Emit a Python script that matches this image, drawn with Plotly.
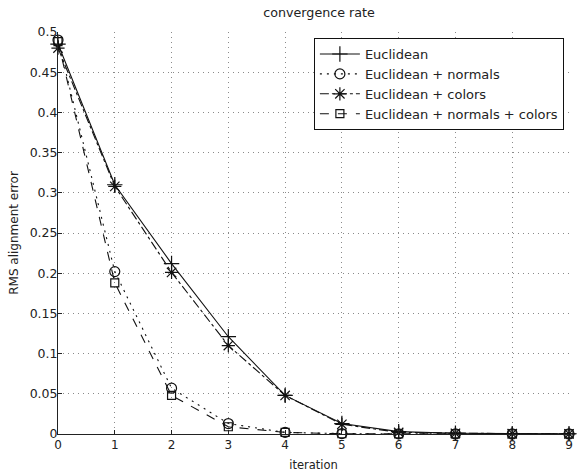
import plotly.graph_objects as go

iterations = [0, 1, 2, 3, 4, 5, 6, 7, 8, 9]
euclidean = [0.485, 0.310, 0.212, 0.121, 0.048, 0.013, 0.003, 0.001, 0.0005, 0.0003]
eu_normals = [0.490, 0.202, 0.057, 0.013, 0.002, 0.0005, 0.0002, 0.0001, 0.0001, 0.0001]
eu_colors = [0.480, 0.308, 0.201, 0.110, 0.048, 0.012, 0.002, 0.0008, 0.0004, 0.0002]
eu_normals_colors = [0.488, 0.188, 0.048, 0.009, 0.002, 0.0003, 0.0001, 0.0001, 0.0001, 0.0001]

series = [
    ("Euclidean", euclidean, "solid", "cross-thin-open", 11),
    ("Euclidean + normals", eu_normals, "2px,5px", "circle-open", 10),
    ("Euclidean + colors", eu_colors, "dashdot", "asterisk-open", 11),
    ("Euclidean + normals + colors", eu_normals_colors, "dash", "square-open", 8),
]

fig = go.Figure()
for name, vals, dash, sym, size in series:
    fig.add_trace(go.Scatter(
        x=iterations, y=vals, name=name, mode="lines+markers",
        line=dict(color="#111111", width=1.1, dash=dash),
        marker=dict(symbol=sym, size=size, color="#111111", line=dict(width=1.2, color="#111111")),
        cliponaxis=False,
    ))

font = "DejaVu Sans, sans-serif"
fig.update_layout(
    width=577, height=473,
    margin=dict(l=58, r=4, t=32, b=38),
    paper_bgcolor="white", plot_bgcolor="white",
    font=dict(family=font, size=12, color="#222222"),
    title=dict(text="convergence rate", x=0.553, xanchor="center", y=0.974, yanchor="middle",
               font=dict(size=12.7, family=font, color="#222222")),
    showlegend=True,
    legend=dict(x=0.99, y=0.985, xanchor="right", yanchor="top",
                bgcolor="white", bordercolor="#111111", borderwidth=1,
                font=dict(size=13, family=font, color="#222222"),
                tracegroupgap=0, itemwidth=40),
)
fig.update_xaxes(
    range=[0, 9], tickmode="linear", tick0=0, dtick=1,
    showline=True, linecolor="#222222", linewidth=1,
    ticks="inside", ticklen=4, tickcolor="#222222",
    showgrid=True, gridcolor="#8a8a8a", griddash="1px,4px", gridwidth=1,
    zeroline=False, tickfont=dict(size=12),
    title=dict(text="iteration", standoff=9, font=dict(size=11.5)),
)
fig.update_yaxes(
    range=[0, 0.5], tickmode="linear", tick0=0, dtick=0.05,
    showline=True, linecolor="#222222", linewidth=1,
    ticks="inside", ticklen=4, tickcolor="#222222",
    showgrid=True, gridcolor="#8a8a8a", griddash="1px,4px", gridwidth=1,
    zeroline=False, tickfont=dict(size=12.5), ticklabelstandoff=-3,
    title=dict(text="RMS alignment error", standoff=8, font=dict(size=12)),
)

fig.write_html("out.html")
